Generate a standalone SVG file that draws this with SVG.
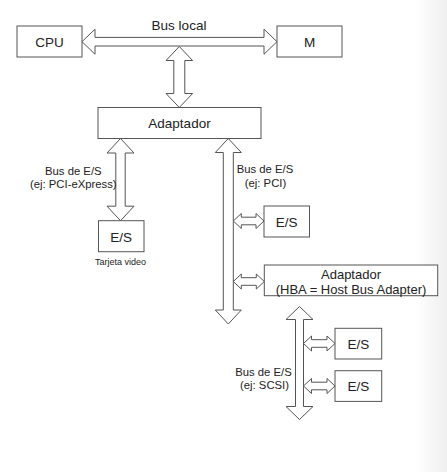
<svg xmlns="http://www.w3.org/2000/svg" width="447" height="472" viewBox="0 0 447 472">
<style>
.box{fill:#fff;stroke:#555;stroke-width:1}
.arr{fill:#fff;stroke:#555;stroke-width:1;stroke-linejoin:miter}
text{font-family:"Liberation Sans",Arial,sans-serif;fill:#222;text-anchor:middle}
.t{font-size:13.5px}
.h{font-size:13px}
.s{font-size:11.3px}
.xs{font-size:9px}
</style>
<defs>
<linearGradient id="edge" x1="0" y1="0" x2="1" y2="0">
<stop offset="0" stop-color="#ffffff"/>
<stop offset="1" stop-color="#efefef"/>
</linearGradient>
</defs>
<rect x="0" y="0" width="447" height="472" fill="#fff"/>
<rect x="416" y="0" width="31" height="472" fill="url(#edge)"/>
<g id="connectors">
<polygon class="arr" points="82,41.7 95,29.2 95,37.4 264,37.4 264,29.2 277,41.7 264,54.2 264,46 95,46 95,54.2"/>
<polygon class="arr" points="179.3,46.5 192.6,60.5 184.8,60.5 184.8,93.5 192.6,93.5 179.3,107.5 166,93.5 173.8,93.5 173.8,60.5 166,60.5"/>
<polygon class="arr" points="120.5,138.5 134,153 125.2,153 125.2,206.2 134,206.2 120.5,220.7 107,206.2 115.8,206.2 115.8,153 107,153"/>
<polygon class="arr" points="228.3,138.5 241.3,152.5 233.3,152.5 233.3,310 241.3,310 228.3,324 215.3,310 223.3,310 223.3,152.5 215.3,152.5"/>
<polygon class="arr" points="233.3,221 241.3,213.5 241.3,217.2 256,217.2 256,213.5 264,221 256,228.5 256,224.8 241.3,224.8 241.3,228.5"/>
<polygon class="arr" points="233.3,281.5 241.3,274 241.3,277.7 256.3,277.7 256.3,274 264.3,281.5 256.3,289 256.3,285.3 241.3,285.3 241.3,289"/>
<polygon class="arr" points="299.5,306.5 313,319.5 303.5,319.5 303.5,406.5 313,406.5 299.5,419.5 286,406.5 295.5,406.5 295.5,319.5 286,319.5"/>
<polygon class="arr" points="303.5,343.5 311.5,336 311.5,339.7 327,339.7 327,336 335,343.5 327,351 327,347.3 311.5,347.3 311.5,351"/>
<polygon class="arr" points="303.5,386 311.5,378.5 311.5,382.2 327,382.2 327,378.5 335,386 327,393.5 327,389.8 311.5,389.8 311.5,393.5"/>
<text class="t" x="179" y="30">Bus local</text>
<text class="s" x="73.3" y="175">Bus de E/S</text>
<text class="s" x="73.3" y="187.5">(ej: PCI-eXpress)</text>
<text class="s" x="265" y="173">Bus de E/S</text>
<text class="s" x="265.5" y="186.5">(ej: PCI)</text>
<text class="s" x="263.5" y="375.5">Bus de E/S</text>
<text class="s" x="264.5" y="388.5">(ej: SCSI)</text>
</g>
<g id="cpu">
<rect class="box" x="17" y="26" width="65" height="31"/>
<text class="t" x="49.5" y="46.5">CPU</text>
</g>
<g id="m">
<rect class="box" x="277" y="26" width="65" height="31"/>
<text class="t" x="309.5" y="46.5">M</text>
</g>
<g id="adaptador">
<rect class="box" x="98" y="107.5" width="163" height="31"/>
<text class="t" x="179.5" y="127.5">Adaptador</text>
</g>
<g id="es-video">
<rect class="box" x="98.5" y="220.7" width="45.5" height="31"/>
<text class="t" x="121.2" y="241.5">E/S</text>
<text class="xs" x="120.5" y="265">Tarjeta video</text>
</g>
<g id="es-pci">
<rect class="box" x="264" y="206" width="45.5" height="31"/>
<text class="t" x="286.7" y="226.8">E/S</text>
</g>
<g id="hba">
<rect class="box" x="264.3" y="265" width="173.4" height="30.7"/>
<text class="h" x="351" y="279.3">Adaptador</text>
<text class="h" x="351" y="293.8">(HBA = Host Bus Adapter)</text>
</g>
<g id="es-scsi1">
<rect class="box" x="335" y="328.3" width="46.7" height="30.7"/>
<text class="t" x="358.3" y="348.8">E/S</text>
</g>
<g id="es-scsi2">
<rect class="box" x="335" y="370.7" width="46.7" height="30.7"/>
<text class="t" x="358.3" y="391.2">E/S</text>
</g>
</svg>
